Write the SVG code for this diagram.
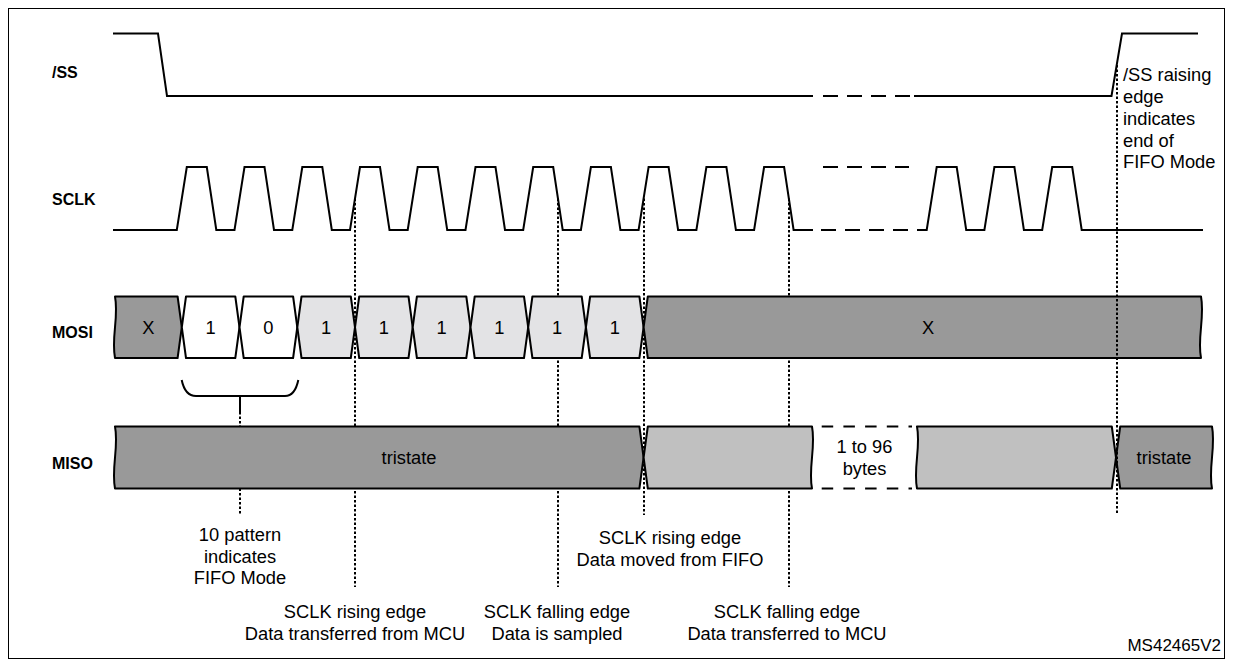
<svg xmlns="http://www.w3.org/2000/svg" width="1233" height="666" viewBox="0 0 1233 666">
<style>
.sig{fill:none;stroke:#000;stroke-width:2;stroke-linejoin:miter}
.dsh{fill:none;stroke:#000;stroke-width:2;stroke-dasharray:15 9}
.dot{fill:none;stroke:#000;stroke-width:2;stroke-dasharray:2.5 2}
.box{stroke:#000;stroke-width:2;stroke-linejoin:round}
.dk{fill:#999}
.lt{fill:#e3e3e5}
.wh{fill:#fff}
.md{fill:#c0c0c0}
.lbl{font-family:"Liberation Sans",Arial,sans-serif;font-weight:bold;font-size:16px;fill:#000}
.t{font-family:"Liberation Sans",Arial,sans-serif;font-size:18.3px;text-anchor:middle;fill:#000}
.tl{font-family:"Liberation Sans",Arial,sans-serif;font-size:18.3px;fill:#000}
</style>
<rect x="8.5" y="8.5" width="1216" height="650" fill="#fff" stroke="#000" stroke-width="1"/>

<g id="connectors">
  <path class="dot" d="M355,198.5 V587"/>
  <path class="dot" d="M558,198.5 V587"/>
  <path class="dot" d="M644,198.5 V515"/>
  <path class="dot" d="M789,198.5 V587"/>
  <path class="sig" d="M240,396 V412" stroke-width="1.5"/>
  <path class="dot" d="M240,412 V515"/>
</g>

<g id="ss">
  <text class="lbl" x="52" y="78">/SS</text>
  <path class="sig" d="M113,33.5 H158 L167,96 H813"/>
  <path class="dsh" d="M823,96 H914"/>
  <path class="sig" d="M914,96 H1111.5 L1122,33.5 H1198"/>
</g>

<g id="sclk">
  <text class="lbl" x="52" y="205">SCLK</text>
  <path class="sig" d="M113,230 H176.8 L186.8,167 H206.8 L216.3,230 H234.5 L244.5,167 H264.5 L274,230 H292.3 L302.3,167 H322.3 L331.8,230 H350 L360,167 H380 L389.5,230 H407.7 L417.7,167 H437.7 L447.2,230 H465.5 L475.5,167 H495.5 L505,230 H523.2 L533.2,167 H553.2 L562.7,230 H580.9 L590.9,167 H610.9 L620.4,230 H638.6 L648.6,167 H668.6 L678.1,230 H696.4 L706.4,167 H726.4 L735.9,230 H754.1 L764.1,167 H784.1 L793.6,230 H813"/>
  <path class="dsh" d="M821,230 H927"/>
  <path class="dsh" d="M823,167 H909"/>
  <path class="sig" d="M917,230 H926.7 L936.7,167 H956.7 L966.2,230 H984.4 L994.4,167 H1014.4 L1023.9,230 H1042.2 L1052.2,167 H1072.2 L1081.7,230 H1203"/>
</g>

<g id="mosi">
  <text class="lbl" x="52" y="338">MOSI</text>
  <path class="box dk" d="M115,296.5 H177.6 L181.8,327.25 L177.6,358 H115 C111,337.5 119,317 115,296.5 Z"/>
  <path class="box wh" d="M186,296.5 H235.3 L239.5,327.25 L235.3,358 H186 L181.8,327.25 Z"/>
  <path class="box wh" d="M243.7,296.5 H293.1 L297.3,327.25 L293.1,358 H243.7 L239.5,327.25 Z"/>
  <path class="box lt" d="M301.5,296.5 H350.8 L355,327.25 L350.8,358 H301.5 L297.3,327.25 Z"/>
  <path class="box lt" d="M359.2,296.5 H408.5 L412.7,327.25 L408.5,358 H359.2 L355,327.25 Z"/>
  <path class="box lt" d="M416.9,296.5 H466.3 L470.5,327.25 L466.3,358 H416.9 L412.7,327.25 Z"/>
  <path class="box lt" d="M474.7,296.5 H524 L528.2,327.25 L524,358 H474.7 L470.5,327.25 Z"/>
  <path class="box lt" d="M532.4,296.5 H581.7 L585.9,327.25 L581.7,358 H532.4 L528.2,327.25 Z"/>
  <path class="box lt" d="M590.1,296.5 H639.4 L643.6,327.25 L639.4,358 H590.1 L585.9,327.25 Z"/>
  <path class="box dk" d="M647.8,296.5 H1201 C1205,317 1197,338 1201,358 H647.8 L643.6,327.25 Z"/>
  <text class="t" x="148.4" y="334">X</text>
  <text class="t" x="210.7" y="334">1</text>
  <text class="t" x="268.4" y="334">0</text>
  <text class="t" x="326.1" y="334">1</text>
  <text class="t" x="383.9" y="334">1</text>
  <text class="t" x="441.6" y="334">1</text>
  <text class="t" x="499.3" y="334">1</text>
  <text class="t" x="557" y="334">1</text>
  <text class="t" x="614.8" y="334">1</text>
  <text class="t" x="928" y="334">X</text>
</g>

<g id="brace">
  <path class="sig" d="M181.7,380 Q185,396 196,396 H285 Q295,396 298.3,380" stroke-width="1.5"/>
</g>

<g id="miso">
  <text class="lbl" x="52" y="469">MISO</text>
  <path class="box dk" d="M115,426.5 H639.4 L643.6,457.5 L639.4,488.5 H115 C111,468 119,447 115,426.5 Z"/>
  <path class="box md" d="M647.8,426.5 H812 C816,447 808,468 812,488.5 H647.8 L643.6,457.5 Z"/>
  <path fill="none" stroke="#000" stroke-width="2" stroke-dasharray="11.5 10.2" d="M821.7,426.5 H912 M821.7,488.5 H912"/>
  <path class="box md" d="M917,426.5 H1111.8 L1116,457.5 L1111.8,488.5 H917 C913,468 921,447 917,426.5 Z"/>
  <path class="box dk" d="M1120.2,426.5 H1212 C1216,447 1208,468 1212,488.5 H1120.2 L1116,457.5 Z"/>
  <text class="t" x="409" y="464">tristate</text>
  <text class="t" x="864.5" y="453">1 to 96</text>
  <text class="t" x="864.5" y="474.5">bytes</text>
  <text class="t" x="1164" y="464">tristate</text>
</g>

<g id="ss-edge-marker">
  <path class="dot" d="M1117,65 V515"/>
</g>

<g id="notes">
  <text class="t" x="240"><tspan x="240" y="541">10 pattern</tspan><tspan x="240" y="562.5">indicates</tspan><tspan x="240" y="584">FIFO Mode</tspan></text>
  <text class="t" x="355"><tspan x="355" y="618">SCLK rising edge</tspan><tspan x="355" y="640">Data transferred from MCU</tspan></text>
  <text class="t" x="557"><tspan x="557" y="618">SCLK falling edge</tspan><tspan x="557" y="640">Data is sampled</tspan></text>
  <text class="t" x="670"><tspan x="670" y="544">SCLK rising edge</tspan><tspan x="670" y="566">Data moved from FIFO</tspan></text>
  <text class="t" x="787"><tspan x="787" y="618">SCLK falling edge</tspan><tspan x="787" y="640">Data transferred to MCU</tspan></text>
  <text class="tl" x="1123"><tspan x="1123" y="81">/SS raising</tspan><tspan x="1123" y="103">edge</tspan><tspan x="1123" y="125">indicates</tspan><tspan x="1123" y="146.5">end of</tspan><tspan x="1123" y="168">FIFO Mode</tspan></text>
  <text class="tl" x="1221" y="651" style="font-size:17px;text-anchor:end">MS42465V2</text>
</g>
</svg>
